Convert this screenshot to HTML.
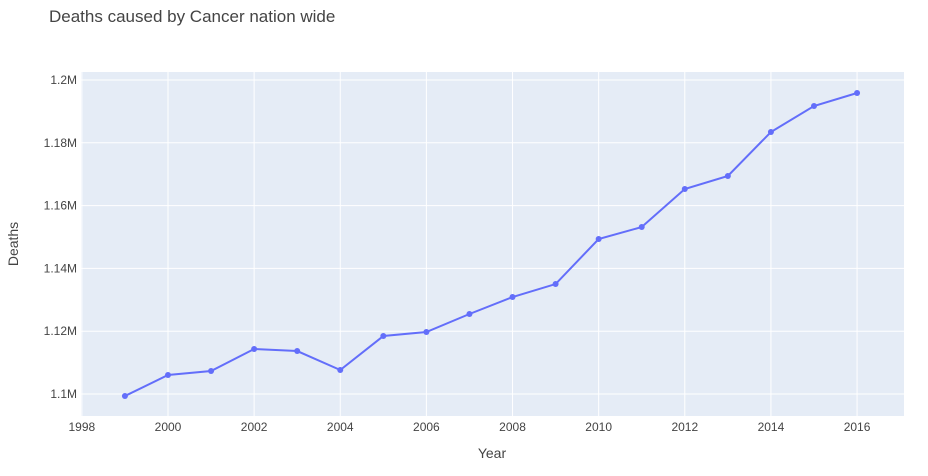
<!DOCTYPE html>
<html><head><meta charset="utf-8"><style>
body{margin:0;background:#fff;font-family:"Liberation Sans",sans-serif;}
svg text{font-family:"Liberation Sans",sans-serif;}
</style></head><body>
<svg id="chart" width="928" height="471" xmlns="http://www.w3.org/2000/svg">
<text x="49" y="22" font-size="17" fill="#444">Deaths caused by Cancer nation wide</text>
<rect x="81" y="72" width="823" height="344" fill="#e5ecf6"/>
<g id="grid"></g>
<g id="series"></g>
<text x="492" y="458" font-size="14" fill="#444" text-anchor="middle">Year</text>
<text x="18" y="244" font-size="14" fill="#444" text-anchor="middle" transform="rotate(-90 18 244)">Deaths</text>
</svg>
<script>
const years=[1999,2000,2001,2002,2003,2004,2005,2006,2007,2008,2009,2010,2011,2012,2013,2014,2015,2016];
const deaths=[1099360,1106050,1107320,1114330,1113690,1107640,1118470,1119750,1125480,1130890,1135030,1149360,1153180,1165290,1169430,1183440,1191720,1195860];
const xTicks=[1998,2000,2002,2004,2006,2008,2010,2012,2014,2016];
const yTicks=[1100000,1120000,1140000,1160000,1180000,1200000];
const yTickLabels=["1.1M","1.12M","1.14M","1.16M","1.18M","1.2M"];
const NS="http://www.w3.org/2000/svg";
const X0=81,X1=904,Y0=72,Y1=416,xmin=1997.98,xmax=2017.09,ymin=1093000,ymax=1202550;
const xs=v=>X0+(v-xmin)/(xmax-xmin)*(X1-X0);
const ys=v=>Y1-(v-ymin)/(ymax-ymin)*(Y1-Y0);
function mk(tag,attrs,parent){const e=document.createElementNS(NS,tag);for(const k in attrs)e.setAttribute(k,attrs[k]);parent.appendChild(e);return e;}
const grid=document.getElementById('grid'),ser=document.getElementById('series');
xTicks.forEach(t=>{const x=xs(t);
 const l=mk('line',{x1:x,x2:x,y1:Y0,y2:Y1,stroke:'#fff','stroke-width':1},grid);
 
 
 const tx=mk('text',{x:x,y:431,'font-size':12,fill:'#444','text-anchor':'middle'},grid);tx.textContent=t;
 
 
});
yTicks.forEach((t,i)=>{const y=ys(t);
 const l=mk('line',{x1:X0,x2:X1,y1:y,y2:y,stroke:'#fff','stroke-width':1},grid);
 
 
 const tx=mk('text',{x:77,y:y+4,'font-size':12,fill:'#444','text-anchor':'end'},grid);tx.textContent=yTickLabels[i];
 
 
});
const pts=years.map((y,i)=>xs(y)+','+ys(deaths[i])).join(' ');
const pl=mk('polyline',{points:pts,fill:'none',stroke:'#636efa','stroke-width':2},ser);


years.forEach((y,i)=>{const c=mk('circle',{cx:xs(y),cy:ys(deaths[i]),r:3,fill:'#636efa'},ser);
 
 
});
</script>
</body></html>
